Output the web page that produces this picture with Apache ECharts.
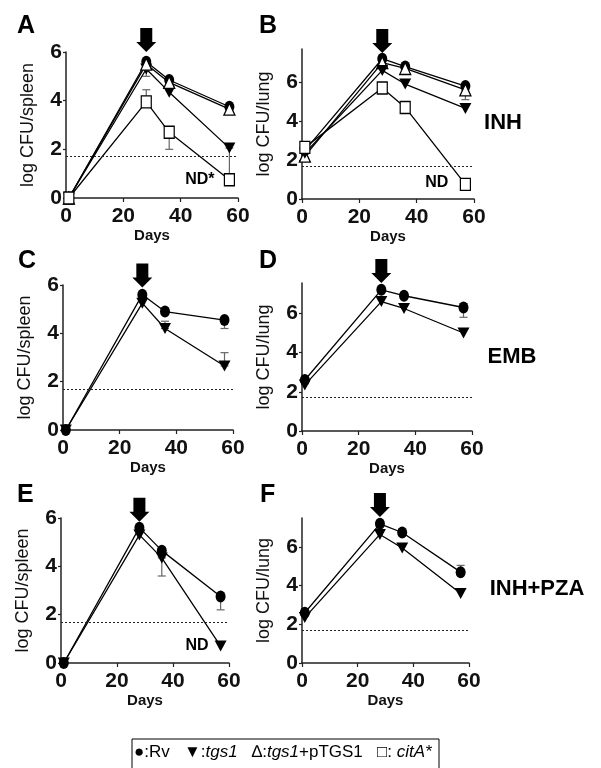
<!DOCTYPE html>
<html><head><meta charset="utf-8">
<script src="https://cdn.jsdelivr.net/npm/echarts@6/dist/echarts.min.js"></script>
<style>html,body{margin:0;padding:0;background:#fff}#c{width:601px;height:768px}</style>
</head><body><div id="c"></div>
<script>
// ---------- data ----------
const days = [1, 28, 36, 57];
const xTicks = [0, 20, 40, 60];
const yTicks = [0, 2, 4, 6];
const detectionLimit = 1.7;
const arrowDay = 28;

// Panel A: INH, spleen
const A_Rv   = [0, 5.6, 4.85, 3.75];
const A_tgs1 = [0, 5.3, 4.35, 2.05];
const A_comp = [0, 5.5, 4.75, 3.65];
const A_citA = [0, 3.95, 2.7, 0.75];
const A_err  = [[28, 3.95, 4.45], [36, 2.0, 2.7], [57, 0.8, 2.05], [28, 5.0, 5.3]];
// Panel B: INH, lung
const B_Rv   = [2.5, 7.2, 6.8, 5.8];
const B_tgs1 = [2.35, 6.6, 5.9, 4.65];
const B_comp = [2.2, 7.0, 6.7, 5.6];
const B_citA = [2.65, 5.7, 4.7, 0.75];
const B_err  = [[57, 5.1, 5.6]];
// Panel C: EMB, spleen
const C_Rv   = [0, 5.6, 4.9, 4.55];
const C_tgs1 = [0, 5.25, 4.2, 2.65];
const C_err  = [[57, 4.2, 4.55], [36, 4.2, 4.5], [57, 2.65, 3.2]];
// Panel D: EMB, lung
const D_Rv   = [2.6, 7.2, 6.9, 6.3];
const D_tgs1 = [2.35, 6.6, 6.25, 5.0];
const D_err  = [[57, 5.8, 6.5]];
// Panel E: INH+PZA, spleen
const E_Rv   = [0, 5.6, 4.65, 2.75];
const E_tgs1 = [0, 5.3, 4.35, 0.7];
const E_err  = [[36, 3.6, 4.35], [57, 2.2, 2.75]];
// Panel F: INH+PZA, lung
const F_Rv   = [2.6, 7.2, 6.75, 4.7];
const F_tgs1 = [2.35, 6.65, 5.95, 3.6];
const F_err  = [[57, 4.7, 5.05]];

// ND annotations [day, value, text]
const A_nd = [[46.7, 0.74, 'ND*']];
const B_nd = [[47, 0.82, 'ND']];
const E_nd = [[48.6, 0.74, 'ND']];

// ---------- styling / layout ----------
const tickFont = "'Liberation Sans',Arial,Helvetica,sans-serif";
const sansFont = "'Liberation Sans',Arial,Helvetica,sans-serif";

const styles = {
  Rv:   {symbol: 'circle', symbolSize: [10, 12], rotate: 0, fill: '#000'},
  tgs1: {symbol: 'triangle', symbolSize: [12, 11], rotate: 180, fill: '#000'},
  comp: {symbol: 'triangle', symbolSize: [11, 12], rotate: 0, fill: '#fff'},
  citA: {symbol: 'rect', symbolSize: [10, 12], rotate: 0, fill: '#fff'}
};

const panels = [
  {grid: {left: 66, top: 52, width: 172, height: 146}, ymax: 6, yName: 'log CFU/spleen', daysGap: 26,
   series: [['Rv', A_Rv], ['tgs1', A_tgs1], ['comp', A_comp], ['citA', A_citA]], err: A_err, arrowTop: 6.0, nd: A_nd},
  {grid: {left: 302, top: 49, width: 172, height: 150}, ymax: 7.7, yName: 'log CFU/lung', daysGap: 25,
   series: [['Rv', B_Rv], ['comp', B_comp], ['tgs1', B_tgs1], ['citA', B_citA]], err: B_err, arrowTop: 7.5, nd: B_nd},
  {grid: {left: 63, top: 285, width: 170, height: 145}, ymax: 6, yName: 'log CFU/spleen', daysGap: 27,
   series: [['Rv', C_Rv], ['tgs1', C_tgs1]], err: C_err, arrowTop: 5.9, nd: []},
  {grid: {left: 302, top: 283, width: 170, height: 148}, ymax: 7.55, yName: 'log CFU/lung', daysGap: 21,
   series: [['Rv', D_Rv], ['tgs1', D_tgs1]], err: D_err, arrowTop: 7.55, nd: []},
  {grid: {left: 61, top: 518, width: 168, height: 145}, ymax: 6, yName: 'log CFU/spleen', daysGap: 30,
   series: [['Rv', E_Rv], ['tgs1', E_tgs1]], err: E_err, arrowTop: 5.85, nd: E_nd},
  {grid: {left: 302, top: 518, width: 167, height: 145}, ymax: 7.5, yName: 'log CFU/lung', daysGap: 30,
   series: [['Rv', F_Rv], ['tgs1', F_tgs1]], err: F_err, arrowTop: 7.55, nd: []}
];

const arrowPath = 'path://M4,0 L16,0 L16,14 L20,14 L10,24 L0,14 L4,14 Z';

function renderErr(params, api) {
  const x = api.value(0), lo = api.value(1), hi = api.value(2);
  const p1 = api.coord([x, lo]), p2 = api.coord([x, hi]);
  const w = 4;
  const st = {stroke: '#666', lineWidth: 1.2};
  return {type: 'group', children: [
    {type: 'line', shape: {x1: p1[0], y1: p1[1], x2: p2[0], y2: p2[1]}, style: st},
    {type: 'line', shape: {x1: p1[0] - w, y1: p1[1], x2: p1[0] + w, y2: p1[1]}, style: st},
    {type: 'line', shape: {x1: p2[0] - w, y1: p2[1], x2: p2[0] + w, y2: p2[1]}, style: st}
  ]};
}

const grid = [], xAxis = [], yAxis = [], series = [];
panels.forEach((p, i) => {
  grid.push(Object.assign({containLabel: false}, p.grid));
  xAxis.push({
    gridIndex: i, type: 'value', min: 0, max: 60, interval: 20,
    name: 'Days', nameLocation: 'middle', nameGap: p.daysGap,
    nameTextStyle: {fontFamily: sansFont, fontWeight: 'bold', fontSize: 15, color: '#111'},
    axisLine: {show: true, onZero: false, lineStyle: {color: '#222', width: 1.5}},
    axisTick: {show: true, length: 4, lineStyle: {color: '#222', width: 1.2}},
    axisLabel: {customValues: xTicks, margin: 8, fontFamily: tickFont, fontWeight: 'bold', fontSize: 21, color: '#111'},
    splitLine: {show: false}
  });
  yAxis.push({
    gridIndex: i, type: 'value', min: 0, max: p.ymax,
    name: p.yName, nameLocation: 'middle', nameGap: 29, nameRotate: 90,
    nameTextStyle: {fontFamily: sansFont, fontSize: 18, color: '#111'},
    axisLine: {show: true, onZero: false, lineStyle: {color: '#222', width: 1.5}},
    axisTick: {show: true, length: 3, customValues: yTicks, lineStyle: {color: '#222', width: 1.2}},
    axisLabel: {customValues: yTicks, margin: 4, fontFamily: tickFont, fontWeight: 'bold', fontSize: 21, color: '#111'},
    splitLine: {show: false}
  });
  // detection limit (dotted)
  series.push({
    type: 'line', xAxisIndex: i, yAxisIndex: i, data: [], silent: true,
    markLine: {silent: true, symbol: 'none', label: {show: false},
      lineStyle: {type: [2, 2], color: '#222', width: 1},
      data: [{yAxis: detectionLimit}]}
  });
  // error bars
  series.push({type: 'custom', xAxisIndex: i, yAxisIndex: i, renderItem: renderErr, data: p.err, z: 1, silent: true});
  // strain series
  p.series.forEach(([key, vals]) => {
    const s = styles[key];
    series.push({
      type: 'line', xAxisIndex: i, yAxisIndex: i, z: 3,
      data: days.map((d, k) => [d, vals[k]]),
      symbol: s.symbol, symbolSize: s.symbolSize, symbolRotate: s.rotate, showAllSymbol: true,
      lineStyle: {color: '#000', width: 1.3},
      itemStyle: {color: s.fill, borderColor: '#000', borderWidth: s.fill === '#fff' ? 1.3 : 0, opacity: 1},
      clip: false, animation: false
    });
  });
  // arrow (treatment start)
  series.push({
    type: 'scatter', xAxisIndex: i, yAxisIndex: i, z: 5, clip: false,
    data: [[arrowDay, p.arrowTop]], symbol: arrowPath, symbolSize: [20, 24], symbolOffset: [0, '-50%'],
    itemStyle: {color: '#000', opacity: 1}, silent: true
  });
  // ND labels
  if (p.nd.length) {
    series.push({
      type: 'scatter', xAxisIndex: i, yAxisIndex: i, z: 5, clip: false, symbolSize: 0,
      itemStyle: {opacity: 1},
      data: p.nd.map(n => ({value: [n[0], n[1]], name: n[2]})),
      label: {show: true, position: 'inside', formatter: '{b}', fontFamily: sansFont, fontWeight: 'bold', fontSize: 16, color: '#000', opacity: 1},
      silent: true
    });
  }
});

const letterStyle = (t, x, y) => ({type: 'text', left: x, top: y,
  style: {text: t, font: "bold 25px 'Liberation Sans', Arial, sans-serif", fill: '#000'}});
const drugStyle = (t, cx, cy) => ({type: 'text', x: cx, y: cy,
  style: {text: t, font: "bold 22px 'Liberation Sans', Arial, sans-serif", fill: '#000', align: 'center', verticalAlign: 'middle'}});

const graphic = [
  letterStyle('A', 17, 14), letterStyle('B', 259, 14),
  letterStyle('C', 18, 249), letterStyle('D', 259, 249),
  letterStyle('E', 17, 483), letterStyle('F', 260, 483),
  drugStyle('INH', 503, 123), drugStyle('EMB', 512, 357), drugStyle('INH+PZA', 537, 589),
  {type: 'rect', shape: {x: 132, y: 739, width: 307, height: 32}, style: {fill: '#fff', stroke: '#000', lineWidth: 1}},
  {type: 'text', x: 134, y: 752, style: {
    text: '{n|●:Rv   ▼:}{i|tgs1}{n|   ∆:}{i|tgs1}{n|+pTGS1   □: }{i|citA*}',
    verticalAlign: 'middle', align: 'left',
    rich: {
      n: {fontFamily: sansFont, fontSize: 17, fill: '#000', fontWeight: 'normal'},
      i: {fontFamily: sansFont, fontSize: 17, fill: '#000', fontStyle: 'italic'}
    }
  }}
];

const chart = echarts.init(document.getElementById('c'), null, {renderer: 'canvas'});
chart.setOption({animation: false, backgroundColor: '#fff', grid, xAxis, yAxis, series, graphic});
</script>
</body></html>
